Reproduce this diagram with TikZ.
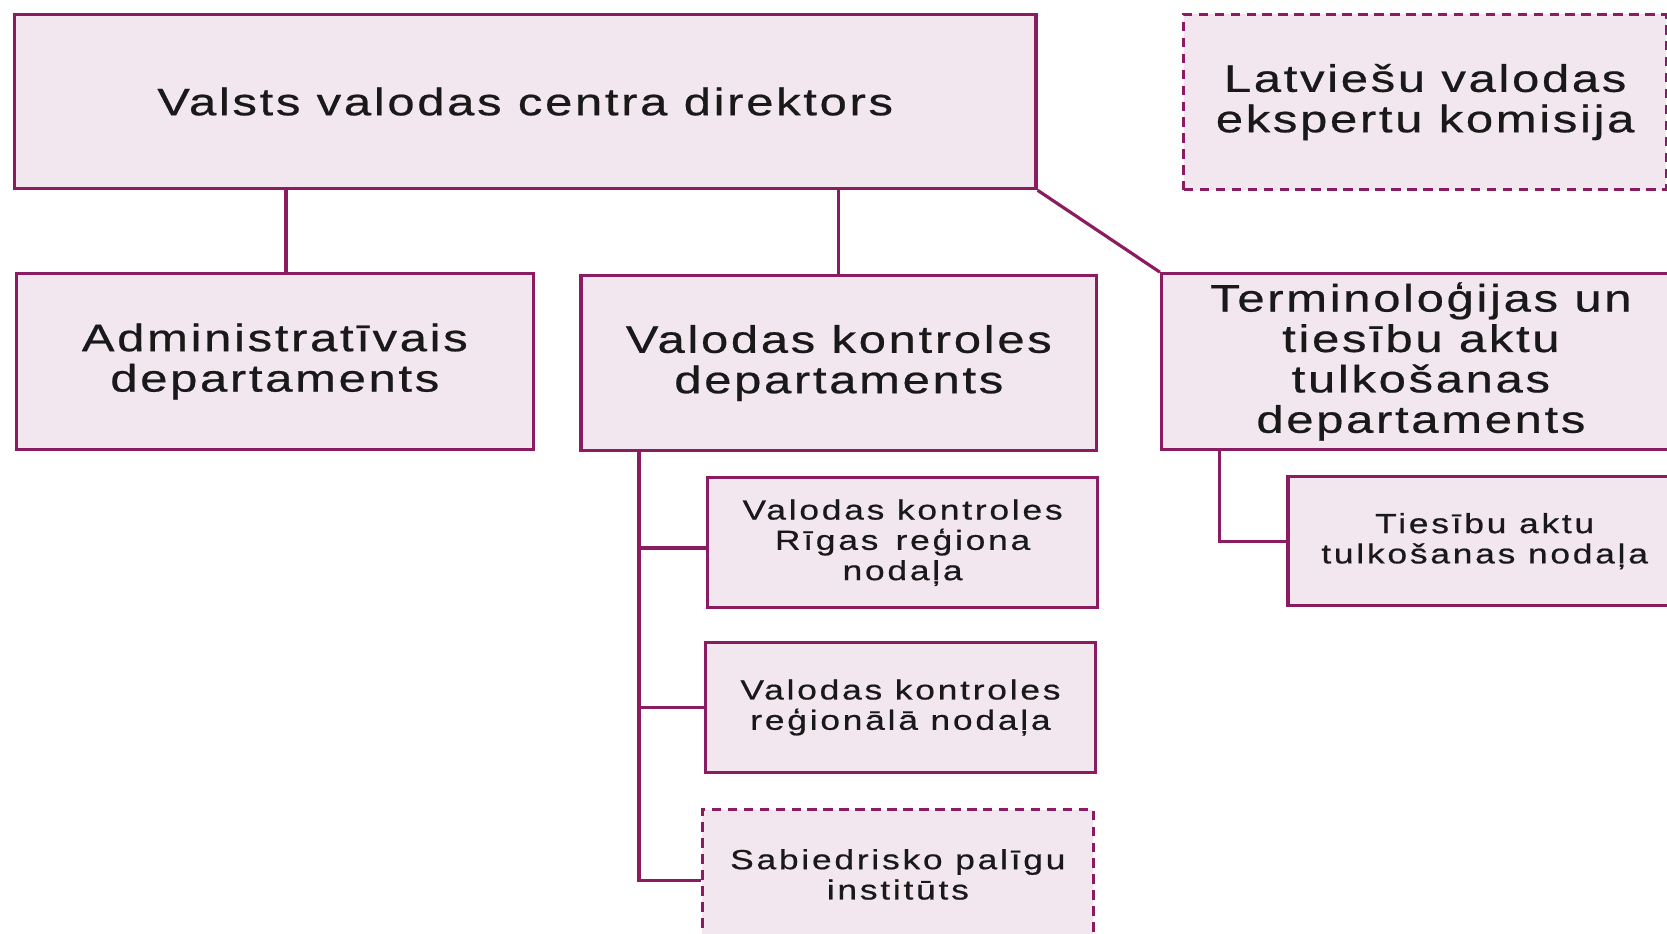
\documentclass[tikz,border=0pt]{standalone}
\usepackage{fontspec}
\setmainfont{Liberation Sans}
\newfontfamily\bigfont[FakeStretch=1.28,LetterSpace=7,FakeBold=0.6]{Liberation Sans}
\newfontfamily\smallfont[FakeStretch=1.28,LetterSpace=10,FakeBold=0.6]{Liberation Sans}
\definecolor{bordercol}{RGB}{140,28,98}
\definecolor{fillcol}{RGB}{242,230,239}
\definecolor{textcol}{RGB}{25,25,25}
\tikzset{
  box/.style={draw=bordercol, fill=fillcol, line width=3pt, rectangle, anchor=north west, inner sep=0pt, align=center, text=textcol},
  bigbox/.style={box, font=\bigfont\fontsize{36}{38}\selectfont},
  smallbox/.style={box, font=\smallfont\fontsize{26}{28.5}\selectfont},
  dashbox/.style={dash pattern=on 9pt off 6pt},
  conn/.style={draw=bordercol, line width=3pt}
}
\begin{document}
\begin{tikzpicture}[x=1pt,y=-1pt]
\useasboundingbox (0,0) rectangle (1568,878);
\node[bigbox, minimum width=961, minimum height=164] (dir) at (12,12) {Valsts valodas centra direktors};
\node[bigbox, dashbox, minimum width=454, minimum height=165] (lat) at (1112,12) {Latviešu valodas\\ekspertu komisija};
\node[bigbox, minimum width=486, minimum height=165] (adm) at (14,256) {Administratīvais\\departaments};
\node[bigbox, minimum width=485, minimum height=164] (vkd) at (545,258) {Valodas kontroles\\departaments};
\node[bigbox, minimum width=488, minimum height=165] (ter) at (1091,256) {Terminoloģijas un\\tiesību aktu\\tulkošanas\\departaments};
\node[smallbox, minimum width=367, minimum height=122] (rig) at (664,448) {Valodas kontroles\\Rīgas\, reģiona\\nodaļa};
\node[smallbox, minimum width=367, minimum height=122] (reg) at (662,603) {Valodas kontroles\\reģionālā nodaļa};
\node[smallbox, dashbox, minimum width=368, minimum height=122] (sab) at (659,760) {Sabiedrisko palīgu\\institūts};
\node[smallbox, minimum width=370, minimum height=121] (tie) at (1210,447) {Tiesību aktu\\tulkošanas nodaļa};
\coordinate (admx) at (269,0);
\coordinate (vkdx) at (789,0);
\coordinate (vkx) at (601,422);
\coordinate (terx) at (1147,421);
\draw[conn] (dir.south -| admx) -- (adm.north -| admx);
\draw[conn] (dir.south -| vkdx) -- (vkd.north -| vkdx);
\draw[conn] (dir.south east) -- (ter.north west);
\draw[conn] (vkx) |- ([yshift=-6pt]sab.west);
\draw[conn] ([yshift=-5pt]rig.west -| vkx) -- ([yshift=-5pt]rig.west);
\draw[conn] (reg.west -| vkx) -- (reg.west);
\draw[conn] (terx) |- (tie.west);
\end{tikzpicture}
\end{document}
